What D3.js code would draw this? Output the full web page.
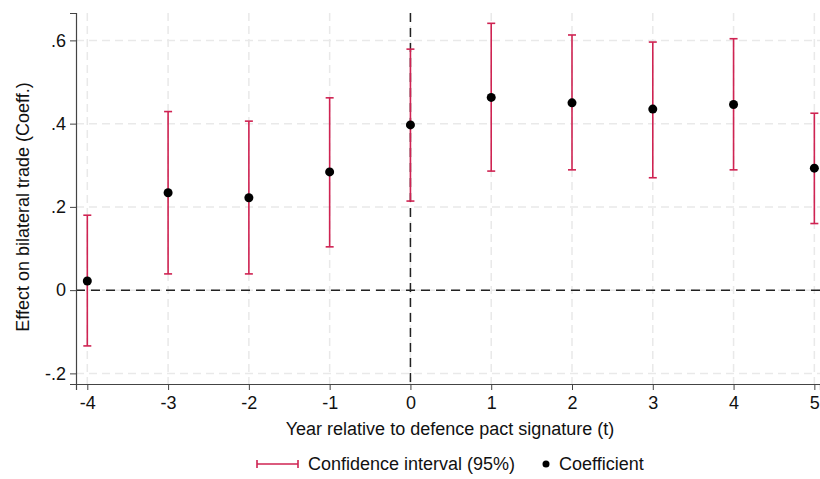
<!DOCTYPE html>
<html>
<head>
<meta charset="utf-8">
<script src="https://cdn.jsdelivr.net/npm/d3@7"></script>
<style>
  body { margin: 0; background: #fff; }
  text { font-family: "Liberation Sans", Arial, sans-serif; fill: #111; }
</style>
</head>
<body>
<div id="chart"></div>
<script>
// event-study estimates
const years = [-4, -3, -2, -1, 0, 1, 2, 3, 4, 5];
const coef  = [0.022, 0.234, 0.222, 0.284, 0.397, 0.463, 0.450, 0.435, 0.446, 0.293];
const ciLow = [-0.134, 0.039, 0.039, 0.104, 0.214, 0.286, 0.289, 0.270, 0.289, 0.160];
const ciHigh = [0.180, 0.429, 0.406, 0.462, 0.579, 0.641, 0.613, 0.596, 0.604, 0.425];
const yTicks = [-0.2, 0, 0.2, 0.4, 0.6];

const W = 820, H = 479;
const margin = {top: 13, right: 0, bottom: 95, left: 76};
const width = W - margin.left - margin.right;
const height = H - margin.top - margin.bottom;
const red = "#cf2352";

const svg = d3.select("#chart").append("svg")
  .attr("width", W).attr("height", H);
const g = svg.append("g")
  .attr("transform", "translate(" + margin.left + "," + margin.top + ")");

const x = d3.scaleLinear().domain([-4.14, 5.07]).range([0, width]);
const y = d3.scaleLinear().domain([-0.2255, 0.6658]).range([height, 0]);

const fmt = v => v === 0 ? "0" : d3.format(".1f")(v).replace("0.", ".").replace("\u2212", "-");

// grid
g.selectAll(".hgrid").data(yTicks).enter().append("line")
  .attr("x1", 0).attr("x2", width)
  .attr("y1", d => y(d)).attr("y2", d => y(d))
  .attr("stroke", "#e9e9e9").attr("stroke-width", 1.5)
  .attr("stroke-dasharray", "8,5");
g.selectAll(".vgrid").data(years).enter().append("line")
  .attr("x1", d => x(d)).attr("x2", d => x(d))
  .attr("y1", 0).attr("y2", height)
  .attr("stroke", "#e9e9e9").attr("stroke-width", 1.5)
  .attr("stroke-dasharray", "8,5");

// reference lines
g.append("line")
  .attr("x1", 0).attr("x2", width)
  .attr("y1", y(0)).attr("y2", y(0))
  .attr("stroke", "#222").attr("stroke-width", 1.5)
  .attr("stroke-dasharray", "9,6");
g.append("line")
  .attr("x1", x(0)).attr("x2", x(0))
  .attr("y1", 0).attr("y2", height)
  .attr("stroke", "#222").attr("stroke-width", 1.5)
  .attr("stroke-dasharray", "9,6");

// axes
const yAxis = g.append("g")
  .call(d3.axisLeft(y).tickValues(yTicks).tickFormat(fmt).tickSize(6).tickPadding(4));
const xAxis = g.append("g")
  .attr("transform", "translate(0," + height + ")")
  .call(d3.axisBottom(x).tickValues(years).tickFormat(d => String(d)).tickSize(6).tickPadding(6));
[yAxis, xAxis].forEach(a => {
  a.select(".domain").attr("stroke", "#444").attr("stroke-width", 1.2);
  a.selectAll(".tick line").attr("stroke", "#444");
  a.selectAll(".tick text").style("font-size", "18px").attr("fill", "#111");
});

// confidence intervals
const ci = g.selectAll(".ci").data(years).enter().append("g");
ci.append("line")
  .attr("x1", d => x(d)).attr("x2", d => x(d))
  .attr("y1", (d, i) => y(ciLow[i])).attr("y2", (d, i) => y(ciHigh[i]))
  .attr("stroke", red).attr("stroke-width", 1.6);
ci.append("line")
  .attr("x1", d => x(d) - 4).attr("x2", d => x(d) + 4)
  .attr("y1", (d, i) => y(ciLow[i])).attr("y2", (d, i) => y(ciLow[i]))
  .attr("stroke", red).attr("stroke-width", 1.6);
ci.append("line")
  .attr("x1", d => x(d) - 4).attr("x2", d => x(d) + 4)
  .attr("y1", (d, i) => y(ciHigh[i])).attr("y2", (d, i) => y(ciHigh[i]))
  .attr("stroke", red).attr("stroke-width", 1.6);

// coefficients
g.selectAll(".pt").data(years).enter().append("circle")
  .attr("cx", d => x(d)).attr("cy", (d, i) => y(coef[i]))
  .attr("r", 4.5).attr("fill", "#000");

// axis titles
svg.append("text")
  .attr("transform", "translate(29,207) rotate(-90)")
  .attr("text-anchor", "middle")
  .style("font-size", "18px")
  .text("Effect on bilateral trade (Coeff.)");
svg.append("text")
  .attr("x", 450).attr("y", 435)
  .attr("text-anchor", "middle")
  .style("font-size", "18px")
  .text("Year relative to defence pact signature (t)");

// legend
const leg = svg.append("g");
leg.append("line").attr("x1", 257).attr("x2", 298).attr("y1", 464).attr("y2", 464)
  .attr("stroke", red).attr("stroke-width", 1.6);
leg.append("line").attr("x1", 257).attr("x2", 257).attr("y1", 460).attr("y2", 468)
  .attr("stroke", red).attr("stroke-width", 1.6);
leg.append("line").attr("x1", 298).attr("x2", 298).attr("y1", 460).attr("y2", 468)
  .attr("stroke", red).attr("stroke-width", 1.6);
leg.append("text").attr("x", 308).attr("y", 470).style("font-size", "18px")
  .text("Confidence interval (95%)");
leg.append("circle").attr("cx", 546).attr("cy", 464).attr("r", 3.5).attr("fill", "#000");
leg.append("text").attr("x", 559).attr("y", 470).style("font-size", "18px")
  .text("Coefficient");
</script>
</body>
</html>
